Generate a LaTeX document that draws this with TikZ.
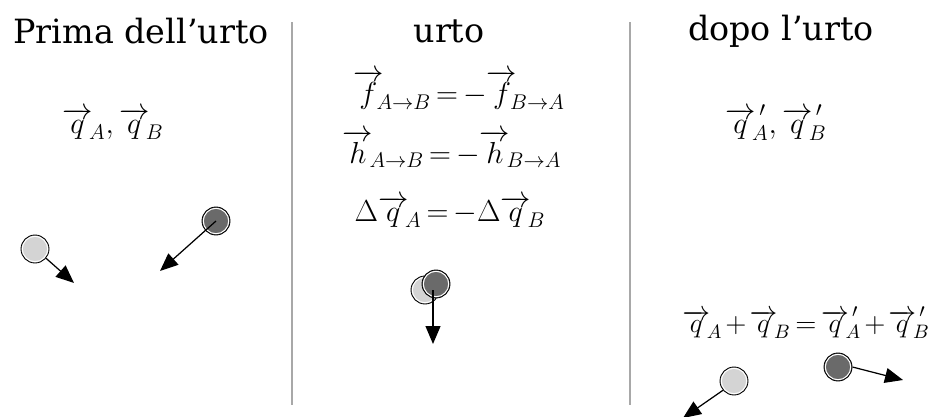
\RequirePackage{fix-cm}
\documentclass[tikz,border=0pt]{standalone}
\usepackage{fontspec}
\setmainfont{DejaVu Serif}
\usepackage{amsmath}
\usepackage{tikz}
\usetikzlibrary{arrows.meta,positioning}
\definecolor{light}{HTML}{D4D4D4}
\definecolor{dark}{HTML}{6A6A6A}
\definecolor{sep}{HTML}{A8A8A8}

\newcommand{\vq}{{\overrightarrow{q}}}
\newcommand{\tight}{\thickmuskip=3mu plus 1mu\medmuskip=2mu plus 1mu}

\begin{document}
\begin{tikzpicture}[
    x=0.02cm,y=-0.02cm,
    title/.style={font=\fontsize{19}{22}\selectfont,inner sep=0pt},
    formula/.style={font=\fontsize{17.3}{21}\selectfont\tight,inner sep=0pt,text height=3.5mm,text depth=1.5mm},
    ball/.style={circle,draw=black,line width=0.5pt,minimum size=0.56cm,inner sep=0pt,
      path picture={\draw[white,line width=0.6pt] (path picture bounding box.center) circle (0.255cm);}},
    ballA/.style={ball,fill=light},
    ballB/.style={ball,fill=dark},
    motion/.style={-{Triangle[length=3.6mm,width=3mm]},line width=0.7pt},
    divider/.style={draw=sep,line width=1.6pt}
  ]
    \useasboundingbox (0,0) rectangle (929,416);

    % titles
    \node[title] (before) at (141,31) {Prima dell’urto};
    \node[title] (during) at (449,31) {urto};
    \node[title] (after) at (781,31) {dopo l’urto};

    % dividers
    \coordinate (s1top) at (292,22);
    \coordinate (s1bot) at (292,405);
    \coordinate (s2top) at (630,22);
    \coordinate (s2bot) at (630,405);
    \draw[divider] (s1top) -- (s1bot);
    \draw[divider] (s2top) -- (s2bot);

    % formulas
    \node[formula] (qbefore) at (113,128) {$\vq_{\!A},\vq_{\!B}$};
    \node[formula] (force) at (459,98) {${\overrightarrow{f}}_{\!\!A\to B}=-{\overrightarrow{f}}_{\!\!B\to A}$};
    \node[formula] (moment) at (452,158) {${\overrightarrow{h}}_{\!A\to B}=-{\overrightarrow{h}}_{\!B\to A}$};
    \node[formula] (delta) at (450,216) {$\Delta\vq_{\!A}=-\Delta\vq_{\!B}$};
    \node[formula] (qafter) at (776,128) {$\vq_{\!A}^{\,\prime},\vq_{\!B}^{\,\prime}$};
    \node[formula,font=\fontsize{15.8}{19}\selectfont\tight] (cons) at (806,327) {$\vq_{\!A}+\vq_{\!B}=\vq_{\!A}^{\,\prime}+\vq_{\!B}^{\,\prime}$};

    % before
    \node[ballA] (a1) at (35,249) {};
    \node[ballB] (b1) at (216,221) {};
    \coordinate (a1end) at (74,283);
    \coordinate (b1end) at (160,271);
    \draw[motion] (a1.-40) -- (a1end);
    \draw[motion] (b1.center) -- (b1end);

    % during
    \node[ballA] (a2) at (425,290) {};
    \node[ballB] (b2) at (436,284) {};
    \coordinate (b2end) at (433,344);
    \draw[motion] (b2.center) ++(-3,6) -- (b2end);

    % after
    \node[ballA] (a3) at (734,381) {};
    \node[ballB] (b3) at (838,367) {};
    \coordinate (a3end) at (683,418);
    \coordinate (b3end) at (903,380);
    \draw[motion] (a3.-140) -- (a3end);
    \draw[motion] (b3.east) -- (b3end);
  \end{tikzpicture}
\end{document}
